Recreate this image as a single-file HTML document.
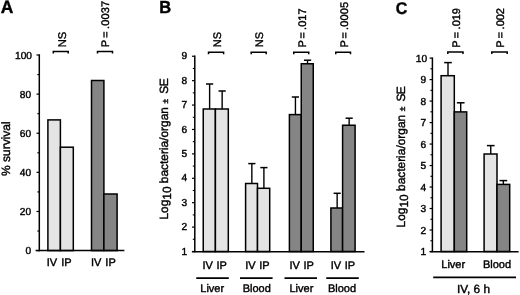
<!DOCTYPE html>
<html><head><meta charset="utf-8"><title>Figure</title>
<style>
html,body{margin:0;padding:0;background:#fff;}
svg{display:block;filter:grayscale(1);}
text{font-family:"Liberation Sans",sans-serif;fill:#000;stroke:#000;stroke-width:0.4px;text-rendering:geometricPrecision;}
</style></head>
<body>
<svg width="520" height="295" viewBox="0 0 520 295">
<rect width="520" height="295" fill="#fff"/>
<text transform="translate(0.8 13.1) scale(0.98 1)" font-size="17.8" font-weight="bold">A</text>
<line x1="39.3" y1="54.3" x2="39.3" y2="251.3" stroke="#000" stroke-width="1.5"/>
<line x1="36.5" y1="250.6" x2="39.3" y2="250.6" stroke="#000" stroke-width="1.2"/>
<text x="31.2" y="254.1" font-size="10.2" text-anchor="end" font-weight="normal" >0</text>
<line x1="37.3" y1="231.04" x2="39.3" y2="231.04" stroke="#000" stroke-width="1.1"/>
<line x1="36.5" y1="211.48" x2="39.3" y2="211.48" stroke="#000" stroke-width="1.2"/>
<text x="31.2" y="215.18" font-size="10.2" text-anchor="end" font-weight="normal" >20</text>
<line x1="37.3" y1="191.92" x2="39.3" y2="191.92" stroke="#000" stroke-width="1.1"/>
<line x1="36.5" y1="172.36" x2="39.3" y2="172.36" stroke="#000" stroke-width="1.2"/>
<text x="31.2" y="176.06" font-size="10.2" text-anchor="end" font-weight="normal" >40</text>
<line x1="37.3" y1="152.8" x2="39.3" y2="152.8" stroke="#000" stroke-width="1.1"/>
<line x1="36.5" y1="133.24" x2="39.3" y2="133.24" stroke="#000" stroke-width="1.2"/>
<text x="31.2" y="136.94" font-size="10.2" text-anchor="end" font-weight="normal" >60</text>
<line x1="37.3" y1="113.68" x2="39.3" y2="113.68" stroke="#000" stroke-width="1.1"/>
<line x1="36.5" y1="94.12" x2="39.3" y2="94.12" stroke="#000" stroke-width="1.2"/>
<text x="31.2" y="97.82" font-size="10.2" text-anchor="end" font-weight="normal" >80</text>
<line x1="37.3" y1="74.56" x2="39.3" y2="74.56" stroke="#000" stroke-width="1.1"/>
<line x1="36.5" y1="55.0" x2="39.3" y2="55.0" stroke="#000" stroke-width="1.2"/>
<text x="32.0" y="59.2" font-size="10.2" text-anchor="end" font-weight="normal" >100</text>
<rect x="47.9" y="119.9" width="12.5" height="130.7" fill="#e4e4e4" stroke="#000" stroke-width="1.5"/>
<rect x="60.4" y="147.2" width="12.9" height="103.4" fill="#e4e4e4" stroke="#000" stroke-width="1.5"/>
<rect x="91.5" y="80.5" width="12.4" height="170.1" fill="#858585" stroke="#000" stroke-width="1.5"/>
<rect x="103.9" y="194" width="13.2" height="56.6" fill="#858585" stroke="#000" stroke-width="1.5"/>
<line x1="35.6" y1="250.6" x2="124.4" y2="250.6" stroke="#000" stroke-width="1.5"/>
<text transform="translate(10 176) rotate(-90)" font-size="12" text-anchor="start">% survival</text>
<path d="M53.3 53.5V51.4H68.2V53.5" fill="none" stroke="#000" stroke-width="1.5"/>
<text transform="translate(65.7 47.3) rotate(-90)" font-size="11.2" text-anchor="start">NS</text>
<path d="M97.5 53.5V51.4H112.5V53.5" fill="none" stroke="#000" stroke-width="1.5"/>
<text transform="translate(109.2 47.2) rotate(-90)" font-size="11" style="word-spacing:-0.7px">P = <tspan letter-spacing="0.1">.0037</tspan></text>
<text x="46.8" y="265.5" font-size="11" text-anchor="start" font-weight="normal" style="word-spacing:0.9px">IV IP</text>
<text x="91" y="265.5" font-size="11" text-anchor="start" font-weight="normal" style="word-spacing:0.9px">IV IP</text>
<text transform="translate(159.2 13.4) scale(0.95 1)" font-size="17.4" font-weight="bold">B</text>
<line x1="194.8" y1="55.55" x2="194.8" y2="252.2" stroke="#000" stroke-width="1.5"/>
<line x1="192.0" y1="251.5" x2="194.8" y2="251.5" stroke="#000" stroke-width="1.2"/>
<text x="187.1" y="254.6" font-size="10.2" text-anchor="end" font-weight="normal" >1</text>
<line x1="192.8" y1="239.3" x2="194.8" y2="239.3" stroke="#000" stroke-width="1.1"/>
<line x1="192.0" y1="227.09" x2="194.8" y2="227.09" stroke="#000" stroke-width="1.2"/>
<text x="187.1" y="230.19" font-size="10.2" text-anchor="end" font-weight="normal" >2</text>
<line x1="192.8" y1="214.89" x2="194.8" y2="214.89" stroke="#000" stroke-width="1.1"/>
<line x1="192.0" y1="202.69" x2="194.8" y2="202.69" stroke="#000" stroke-width="1.2"/>
<text x="187.1" y="205.79" font-size="10.2" text-anchor="end" font-weight="normal" >3</text>
<line x1="192.8" y1="190.48" x2="194.8" y2="190.48" stroke="#000" stroke-width="1.1"/>
<line x1="192.0" y1="178.28" x2="194.8" y2="178.28" stroke="#000" stroke-width="1.2"/>
<text x="187.1" y="181.38" font-size="10.2" text-anchor="end" font-weight="normal" >4</text>
<line x1="192.8" y1="166.08" x2="194.8" y2="166.08" stroke="#000" stroke-width="1.1"/>
<line x1="192.0" y1="153.88" x2="194.8" y2="153.88" stroke="#000" stroke-width="1.2"/>
<text x="187.1" y="156.97" font-size="10.2" text-anchor="end" font-weight="normal" >5</text>
<line x1="192.8" y1="141.67" x2="194.8" y2="141.67" stroke="#000" stroke-width="1.1"/>
<line x1="192.0" y1="129.47" x2="194.8" y2="129.47" stroke="#000" stroke-width="1.2"/>
<text x="187.1" y="132.57" font-size="10.2" text-anchor="end" font-weight="normal" >6</text>
<line x1="192.8" y1="117.27" x2="194.8" y2="117.27" stroke="#000" stroke-width="1.1"/>
<line x1="192.0" y1="105.06" x2="194.8" y2="105.06" stroke="#000" stroke-width="1.2"/>
<text x="187.1" y="108.16" font-size="10.2" text-anchor="end" font-weight="normal" >7</text>
<line x1="192.8" y1="92.86" x2="194.8" y2="92.86" stroke="#000" stroke-width="1.1"/>
<line x1="192.0" y1="80.66" x2="194.8" y2="80.66" stroke="#000" stroke-width="1.2"/>
<text x="187.1" y="83.76" font-size="10.2" text-anchor="end" font-weight="normal" >8</text>
<line x1="192.8" y1="68.45" x2="194.8" y2="68.45" stroke="#000" stroke-width="1.1"/>
<line x1="192.0" y1="56.25" x2="194.8" y2="56.25" stroke="#000" stroke-width="1.2"/>
<text x="187.1" y="59.35" font-size="10.2" text-anchor="end" font-weight="normal" >9</text>
<rect x="203.25" y="109" width="12.15" height="142.5" fill="#e4e4e4" stroke="#000" stroke-width="1.5"/>
<line x1="209.62" y1="109" x2="209.62" y2="84" stroke="#000" stroke-width="1.4"/>
<line x1="206.03" y1="84" x2="213.22" y2="84" stroke="#000" stroke-width="1.5"/>
<rect x="215.4" y="109" width="12.9" height="142.5" fill="#e4e4e4" stroke="#000" stroke-width="1.5"/>
<line x1="222.15" y1="109" x2="222.15" y2="91" stroke="#000" stroke-width="1.4"/>
<line x1="218.55" y1="91" x2="225.75" y2="91" stroke="#000" stroke-width="1.5"/>
<rect x="245.6" y="183.5" width="11.9" height="68.0" fill="#e4e4e4" stroke="#000" stroke-width="1.5"/>
<line x1="251.85" y1="183.5" x2="251.85" y2="163.6" stroke="#000" stroke-width="1.4"/>
<line x1="248.25" y1="163.6" x2="255.45" y2="163.6" stroke="#000" stroke-width="1.5"/>
<rect x="257.5" y="188.3" width="12.2" height="63.2" fill="#e4e4e4" stroke="#000" stroke-width="1.5"/>
<line x1="263.9" y1="188.3" x2="263.9" y2="167.6" stroke="#000" stroke-width="1.4"/>
<line x1="260.3" y1="167.6" x2="267.5" y2="167.6" stroke="#000" stroke-width="1.5"/>
<rect x="289.4" y="114.6" width="11.85" height="136.9" fill="#858585" stroke="#000" stroke-width="1.5"/>
<line x1="295.43" y1="114.6" x2="295.43" y2="97" stroke="#000" stroke-width="1.4"/>
<line x1="291.82" y1="97" x2="299.03" y2="97" stroke="#000" stroke-width="1.5"/>
<rect x="301.25" y="63.75" width="12.0" height="187.75" fill="#858585" stroke="#000" stroke-width="1.5"/>
<line x1="307.55" y1="63.75" x2="307.55" y2="60.2" stroke="#000" stroke-width="1.4"/>
<line x1="303.95" y1="60.2" x2="311.15" y2="60.2" stroke="#000" stroke-width="1.5"/>
<rect x="330.9" y="208" width="11.7" height="43.5" fill="#858585" stroke="#000" stroke-width="1.5"/>
<line x1="337.15" y1="208" x2="337.15" y2="193.3" stroke="#000" stroke-width="1.4"/>
<line x1="333.6" y1="193.3" x2="340.7" y2="193.3" stroke="#000" stroke-width="1.5"/>
<rect x="342.6" y="125.25" width="12.5" height="126.25" fill="#858585" stroke="#000" stroke-width="1.5"/>
<line x1="349.15" y1="125.25" x2="349.15" y2="118.2" stroke="#000" stroke-width="1.4"/>
<line x1="345.55" y1="118.2" x2="352.75" y2="118.2" stroke="#000" stroke-width="1.5"/>
<line x1="191.9" y1="251.7" x2="364.5" y2="251.7" stroke="#000" stroke-width="1.5"/>
<text transform="translate(168.1 219.6) rotate(-90)" font-size="11.92">Log<tspan dy="3">10</tspan><tspan dy="-3"> bacteria/organ</tspan><tspan font-size="8.5" dx="3.5">±</tspan><tspan dx="5.1" letter-spacing="-0.5">SE</tspan></text>
<path d="M208.5 54.3V52.2H223.6V54.3" fill="none" stroke="#000" stroke-width="1.5"/>
<text transform="translate(220.5 47.2) rotate(-90)" font-size="11" text-anchor="start">NS</text>
<path d="M251.2 54.3V52.2H266.2V54.3" fill="none" stroke="#000" stroke-width="1.5"/>
<text transform="translate(263.3 47.2) rotate(-90)" font-size="11" text-anchor="start">NS</text>
<path d="M293.75 54.3V52.2H308.75V54.3" fill="none" stroke="#000" stroke-width="1.5"/>
<text transform="translate(305.75 47.6) rotate(-90)" font-size="11" style="word-spacing:-1.0px">P = <tspan letter-spacing="0">.017</tspan></text>
<path d="M335.75 54.3V52.2H350.5V54.3" fill="none" stroke="#000" stroke-width="1.5"/>
<text transform="translate(347.5 47.6) rotate(-90)" font-size="11" style="word-spacing:-1.0px">P = <tspan letter-spacing="0.15">.0005</tspan></text>
<text x="202.5" y="268.5" font-size="11" text-anchor="start" font-weight="normal" style="word-spacing:0.5px">IV IP</text>
<text x="245.3" y="268.5" font-size="11" text-anchor="start" font-weight="normal" style="word-spacing:0.5px">IV IP</text>
<text x="289.5" y="268.5" font-size="11" text-anchor="start" font-weight="normal" style="word-spacing:0.5px">IV IP</text>
<text x="330.75" y="268.5" font-size="11" text-anchor="start" font-weight="normal" style="word-spacing:0.5px">IV IP</text>
<line x1="196.25" y1="278.1" x2="228.8" y2="278.1" stroke="#000" stroke-width="1.7"/>
<line x1="240" y1="278.1" x2="272.6" y2="278.1" stroke="#000" stroke-width="1.7"/>
<line x1="284.5" y1="278.1" x2="317" y2="278.1" stroke="#000" stroke-width="1.7"/>
<line x1="326.25" y1="278.1" x2="358.8" y2="278.1" stroke="#000" stroke-width="1.7"/>
<text x="212.2" y="291.5" font-size="11" text-anchor="middle" font-weight="normal" >Liver</text>
<text x="256.7" y="291.5" font-size="11" text-anchor="middle" font-weight="normal" >Blood</text>
<text x="301.4" y="291.5" font-size="11" text-anchor="middle" font-weight="normal" >Liver</text>
<text x="342" y="291.5" font-size="11" text-anchor="middle" font-weight="normal" >Blood</text>
<text transform="translate(395.8 13.8) scale(0.94 1)" font-size="17" font-weight="bold">C</text>
<line x1="432.4" y1="57.4" x2="432.4" y2="252.2" stroke="#000" stroke-width="1.5"/>
<line x1="429.6" y1="251.5" x2="432.4" y2="251.5" stroke="#000" stroke-width="1.2"/>
<text x="426.1" y="255.2" font-size="10.2" text-anchor="end" font-weight="normal" >1</text>
<line x1="430.4" y1="240.76" x2="432.4" y2="240.76" stroke="#000" stroke-width="1.1"/>
<line x1="429.6" y1="230.01" x2="432.4" y2="230.01" stroke="#000" stroke-width="1.2"/>
<text x="426.1" y="233.71" font-size="10.2" text-anchor="end" font-weight="normal" >2</text>
<line x1="430.4" y1="219.27" x2="432.4" y2="219.27" stroke="#000" stroke-width="1.1"/>
<line x1="429.6" y1="208.52" x2="432.4" y2="208.52" stroke="#000" stroke-width="1.2"/>
<text x="426.1" y="212.22" font-size="10.2" text-anchor="end" font-weight="normal" >3</text>
<line x1="430.4" y1="197.78" x2="432.4" y2="197.78" stroke="#000" stroke-width="1.1"/>
<line x1="429.6" y1="187.03" x2="432.4" y2="187.03" stroke="#000" stroke-width="1.2"/>
<text x="426.1" y="190.73" font-size="10.2" text-anchor="end" font-weight="normal" >4</text>
<line x1="430.4" y1="176.29" x2="432.4" y2="176.29" stroke="#000" stroke-width="1.1"/>
<line x1="429.6" y1="165.54" x2="432.4" y2="165.54" stroke="#000" stroke-width="1.2"/>
<text x="426.1" y="169.24" font-size="10.2" text-anchor="end" font-weight="normal" >5</text>
<line x1="430.4" y1="154.8" x2="432.4" y2="154.8" stroke="#000" stroke-width="1.1"/>
<line x1="429.6" y1="144.06" x2="432.4" y2="144.06" stroke="#000" stroke-width="1.2"/>
<text x="426.1" y="147.76" font-size="10.2" text-anchor="end" font-weight="normal" >6</text>
<line x1="430.4" y1="133.31" x2="432.4" y2="133.31" stroke="#000" stroke-width="1.1"/>
<line x1="429.6" y1="122.57" x2="432.4" y2="122.57" stroke="#000" stroke-width="1.2"/>
<text x="426.1" y="126.27" font-size="10.2" text-anchor="end" font-weight="normal" >7</text>
<line x1="430.4" y1="111.82" x2="432.4" y2="111.82" stroke="#000" stroke-width="1.1"/>
<line x1="429.6" y1="101.08" x2="432.4" y2="101.08" stroke="#000" stroke-width="1.2"/>
<text x="426.1" y="104.78" font-size="10.2" text-anchor="end" font-weight="normal" >8</text>
<line x1="430.4" y1="90.33" x2="432.4" y2="90.33" stroke="#000" stroke-width="1.1"/>
<line x1="429.6" y1="79.59" x2="432.4" y2="79.59" stroke="#000" stroke-width="1.2"/>
<text x="426.1" y="83.29" font-size="10.2" text-anchor="end" font-weight="normal" >9</text>
<line x1="430.4" y1="68.84" x2="432.4" y2="68.84" stroke="#000" stroke-width="1.1"/>
<line x1="429.6" y1="58.1" x2="432.4" y2="58.1" stroke="#000" stroke-width="1.2"/>
<text x="427.2" y="61.8" font-size="10.2" text-anchor="end" font-weight="normal" >10</text>
<rect x="441.1" y="75.7" width="13.2" height="175.8" fill="#e4e4e4" stroke="#000" stroke-width="1.5"/>
<line x1="448" y1="75.7" x2="448" y2="62.6" stroke="#000" stroke-width="1.4"/>
<line x1="444.15" y1="62.6" x2="451.85" y2="62.6" stroke="#000" stroke-width="1.5"/>
<rect x="454.3" y="111.9" width="12.4" height="139.6" fill="#858585" stroke="#000" stroke-width="1.5"/>
<line x1="460.7" y1="111.9" x2="460.7" y2="102.8" stroke="#000" stroke-width="1.4"/>
<line x1="456.85" y1="102.8" x2="464.55" y2="102.8" stroke="#000" stroke-width="1.5"/>
<rect x="484.1" y="154" width="12.9" height="97.5" fill="#e4e4e4" stroke="#000" stroke-width="1.5"/>
<line x1="490.75" y1="154" x2="490.75" y2="145.6" stroke="#000" stroke-width="1.4"/>
<line x1="486.9" y1="145.6" x2="494.6" y2="145.6" stroke="#000" stroke-width="1.5"/>
<rect x="497.0" y="184.4" width="12.7" height="67.1" fill="#858585" stroke="#000" stroke-width="1.5"/>
<line x1="503.35" y1="184.4" x2="503.35" y2="180.6" stroke="#000" stroke-width="1.4"/>
<line x1="499.5" y1="180.6" x2="507.2" y2="180.6" stroke="#000" stroke-width="1.5"/>
<line x1="429.75" y1="251.7" x2="518.6" y2="251.7" stroke="#000" stroke-width="1.5"/>
<text transform="translate(404.7 227.4) rotate(-90)" font-size="11.92">Log<tspan dy="3">10</tspan><tspan dy="-3"> bacteria/organ</tspan><tspan font-size="8.5" dx="3.5">±</tspan><tspan dx="5.1" letter-spacing="-0.5">SE</tspan></text>
<path d="M447.8 54.1V52.0H463V54.1" fill="none" stroke="#000" stroke-width="1.5"/>
<text transform="translate(460.2 47.7) rotate(-90)" font-size="11" style="word-spacing:-0.7px">P = <tspan letter-spacing="0">.019</tspan></text>
<path d="M491.8 54.1V52.0H507.2V54.1" fill="none" stroke="#000" stroke-width="1.5"/>
<text transform="translate(503.5 47.7) rotate(-90)" font-size="11" style="word-spacing:-0.7px">P = <tspan letter-spacing="0">.002</tspan></text>
<text x="453.2" y="268.3" font-size="11" text-anchor="middle" font-weight="normal" >Liver</text>
<text x="497" y="268.3" font-size="11" text-anchor="middle" font-weight="normal" >Blood</text>
<line x1="433.2" y1="277.35" x2="516" y2="277.35" stroke="#000" stroke-width="1.7"/>
<text x="473.5" y="292.75" font-size="11.8" text-anchor="middle" font-weight="normal" >IV, 6 h</text>
</svg>
</body></html>
